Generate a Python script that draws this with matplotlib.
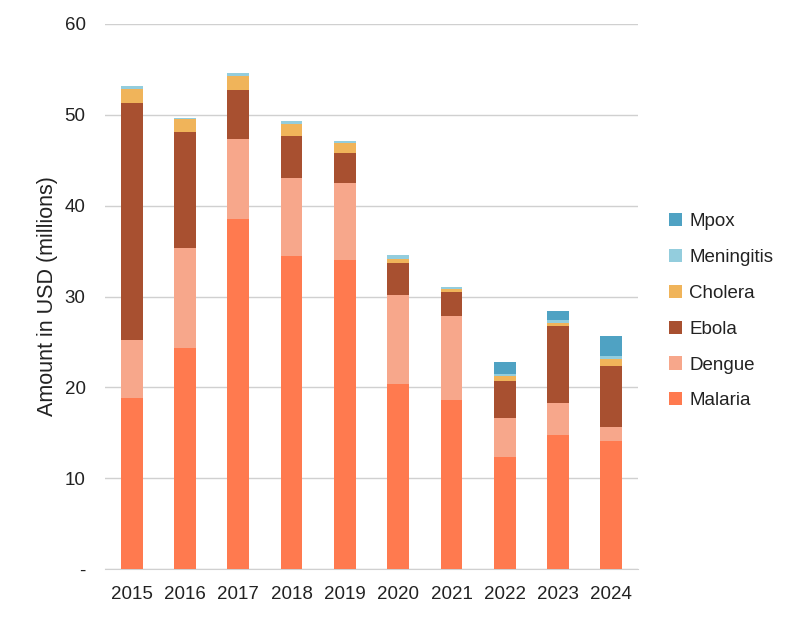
import matplotlib
matplotlib.use("Agg")
import matplotlib.pyplot as plt
import numpy as np

plt.rcParams["font.family"] = ["Liberation Sans", "DejaVu Sans"]

years = ["2015", "2016", "2017", "2018", "2019", "2020", "2021", "2022", "2023", "2024"]
malaria = [18.8, 24.3, 38.5, 34.5, 34.0, 20.4, 18.6, 12.3, 14.8, 14.1]
dengue = [6.4, 11.0, 8.8, 8.6, 8.5, 9.8, 9.3, 4.3, 3.5, 1.5]
ebola = [26.1, 12.8, 5.4, 4.6, 3.3, 3.5, 2.6, 4.1, 8.5, 6.8]
cholera = [1.5, 1.4, 1.6, 1.3, 1.1, 0.4, 0.3, 0.5, 0.3, 0.7]
meningitis = [0.4, 0.15, 0.3, 0.3, 0.2, 0.5, 0.2, 0.3, 0.3, 0.3]
mpox = [0, 0, 0, 0, 0, 0, 0, 1.3, 1.0, 2.3]

series = [
    ("Malaria", malaria, "#FF7A4F"),
    ("Dengue", dengue, "#F7A78B"),
    ("Ebola", ebola, "#A85030"),
    ("Cholera", cholera, "#F0B45A"),
    ("Meningitis", meningitis, "#93CDDD"),
    ("Mpox", mpox, "#4FA2C3"),
]

fig = plt.figure(figsize=(8.08, 6.18), dpi=100)
ax = fig.add_axes([105 / 808, 1 - 569 / 618, 533 / 808, 545 / 618])

x = np.arange(len(years))
bottom = np.zeros(len(years))
handles = []
for name, vals, col in series:
    b = ax.bar(x, vals, width=0.41, bottom=bottom, color=col, label=name, zorder=3)
    handles.append(b)
    bottom += np.array(vals)

ax.set_xlim(-0.5, len(years) - 0.5)
ax.set_ylim(0, 60)
ax.set_yticks([0, 10, 20, 30, 40, 50, 60])
ax.set_yticklabels(["-", "10", "20", "30", "40", "50", "60"])
ax.set_xticks(x)
ax.set_xticklabels(years)
ax.tick_params(axis="both", length=0, labelsize=13.5, colors="#222222")
ax.tick_params(axis="y", pad=14)
ax.tick_params(axis="x", pad=12)
ax.grid(axis="y", color="#D0D0D0", linewidth=1, zorder=0)
for s in ["top", "right", "left"]:
    ax.spines[s].set_visible(False)
ax.spines["bottom"].set_color("#D0D0D0")
ax.set_ylabel("Amount in USD (millions)", fontsize=15.5, color="#222222", labelpad=5)

leg = fig.legend(handles[::-1], [s[0] for s in series][::-1],
                 loc="upper left", bbox_to_anchor=(652 / 808, 1 - 196 / 618),
                 frameon=False, fontsize=13.5, handlelength=0.7, handleheight=0.7,
                 handletextpad=0.4, labelspacing=1.0)
for t in leg.get_texts():
    t.set_color("#222222")

fig.savefig("out.png", dpi=100)
